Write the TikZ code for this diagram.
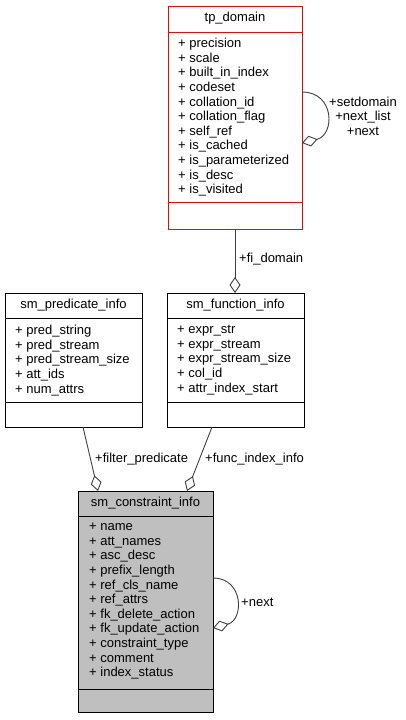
\documentclass[tikz,border=0pt]{standalone}
\usepackage{fontspec}
\setmainfont{Liberation Sans}
\usetikzlibrary{arrows.meta}
\newcommand\cf{\fontsize{13bp}{14.6bp}\selectfont}
\definecolor{edgegray}{HTML}{404040}
\definecolor{boxgray}{HTML}{BFBFBF}
\tikzset{
  cls/.style={draw=black, line width=0.9bp, fill=white, anchor=north west, inner sep=0, outer sep=0},
  div/.style={draw=black, line width=0.9bp},
  ttl/.style={font=\cf, inner sep=0, anchor=center},
  attr/.style={font=\cf, align=left, inner sep=0, anchor=west},
  conn/.style={draw=edgegray, line width=0.9bp, -{Diamond[open,length=16bp,width=11bp,line width=0.9bp]}},
  lbl/.style={font=\cf, inner sep=0}
}
\begin{document}
\begin{tikzpicture}[x=1bp,y=-1bp]
\useasboundingbox (0,0) rectangle (405,720);
% tp_domain
\node[cls, draw=red, minimum width=134bp, minimum height=223bp] (tp) at (168,6) {};
\draw[div, draw=red] (168,32) -- (302,32);
\draw[div, draw=red] (168,202) -- (302,202);
\node[ttl] (tpt) at (235,18.5) {tp\_domain};
\node[attr, anchor=north west] (tpa) at (178,38) {+ precision\\+ scale\\+ built\_in\_index\\+ codeset\\+ collation\_id\\+ collation\_flag\\+ self\_ref\\+ is\_cached\\+ is\_parameterized\\+ is\_desc\\+ is\_visited};
% sm_predicate_info
\node[cls, minimum width=137bp, minimum height=134bp] (pred) at (5,293) {};
\draw[div] (5,318) -- (142,318);
\draw[div] (5,402) -- (142,402);
\node[ttl] (predt) at (73.5,305.5) {sm\_predicate\_info};
\node[attr, anchor=north west] (preda) at (15,325) {+ pred\_string\\+ pred\_stream\\+ pred\_stream\_size\\+ att\_ids\\+ num\_attrs};
% sm_function_info
\node[cls, minimum width=137bp, minimum height=134bp] (fn) at (167,293) {};
\draw[div] (167,318) -- (304,318);
\draw[div] (167,402) -- (304,402);
\node[ttl] (fnt) at (235.5,305.5) {sm\_function\_info};
\node[attr, anchor=north west] (fna) at (177,325) {+ expr\_str\\+ expr\_stream\\+ expr\_stream\_size\\+ col\_id\\+ attr\_index\_start};
% sm_constraint_info
\node[cls, fill=boxgray, minimum width=135bp, minimum height=221bp] (cons) at (78,491) {};
\draw[div] (78,516) -- (213,516);
\draw[div] (78,689) -- (213,689);
\node[ttl] (const) at (145.5,503.5) {sm\_constraint\_info};
\node[attr, anchor=north west] (consa) at (89,523) {+ name\\+ att\_names\\+ asc\_desc\\+ prefix\_length\\+ ref\_cls\_name\\+ ref\_attrs\\+ fk\_delete\_action\\+ fk\_update\_action\\+ constraint\_type\\+ comment\\+ index\_status};
% connectors
\draw[conn] (tp.south) -- (tp.south |- fn.north);
\node[lbl, anchor=west] (lfi) at (239,259) {+fi\_domain};
\draw[conn] ([xshift=78bp]pred.south west) -- ([xshift=20bp]cons.north west);
\node[lbl, anchor=west] (lfp) at (95,459) {+filter\_predicate};
\draw[conn] ([xshift=45bp]fn.south west) -- ([xshift=109bp]cons.north west);
\node[lbl, anchor=west] (lfu) at (205,459) {+func\_index\_info};
\draw[conn] ([yshift=-86bp]tp.north east) .. controls +(33,0) and +(33,-8) .. ([yshift=-137bp]tp.north east);
\node[lbl, align=center] (ltp) at (363,116) {+setdomain\\+next\_list\\+next};
\draw[conn] ([yshift=-87bp]cons.north east) .. controls +(31,0) and +(31,-8) .. ([yshift=-137bp]cons.north east);
\node[lbl, anchor=west] (lnx) at (241,602) {+next};
\end{tikzpicture}
\end{document}
